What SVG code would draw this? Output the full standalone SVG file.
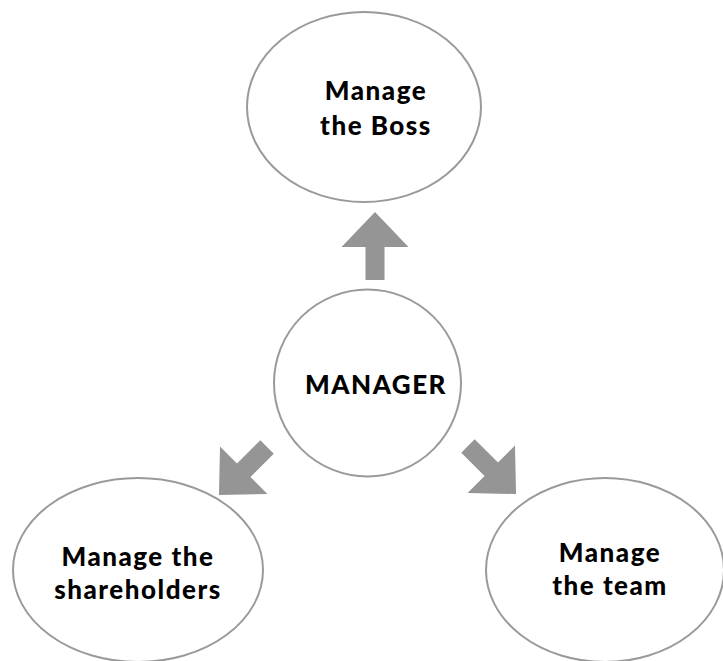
<svg xmlns="http://www.w3.org/2000/svg" width="723" height="661" viewBox="0 0 723 661">
<defs>
<style>
.n{fill:#fff;stroke:#9a9a9a;stroke-width:2}
.t{font-family:Lato,"Noto Sans","DejaVu Sans",sans-serif;font-weight:900;font-size:26px;letter-spacing:1.5px;fill:#000;text-anchor:middle}
.a{fill:#959595}
</style>
<path id="arr" d="M0,-34 L33.5,1 L9.5,1 L9.5,34 L-9.5,34 L-9.5,1 L-33.5,1 Z"/>
</defs>
<g id="boss">
<ellipse class="n" cx="364" cy="107" rx="117" ry="95"/>
<text class="t" x="376" y="100">Manage</text>
<text class="t" x="376" y="135">the Boss</text>
</g>
<g id="manager">
<circle class="n" cx="367.5" cy="383" r="93.5"/>
<text class="t" x="376" y="394">MANAGER</text>
</g>
<g id="shareholders">
<ellipse class="n" cx="138" cy="570" rx="125" ry="92"/>
<text class="t" x="138" y="566">Manage the</text>
<text class="t" x="138" y="599">shareholders</text>
</g>
<g id="team">
<ellipse class="n" cx="605" cy="570" rx="119" ry="92"/>
<text class="t" x="610" y="562">Manage</text>
<text class="t" x="610" y="595">the team</text>
</g>
<g id="connectors">
<use href="#arr" class="a" transform="translate(375,246)"/>
<use href="#arr" class="a" transform="translate(243,471) rotate(-135)"/>
<use href="#arr" class="a" transform="translate(492,470) rotate(135)"/>
</g>
</svg>
